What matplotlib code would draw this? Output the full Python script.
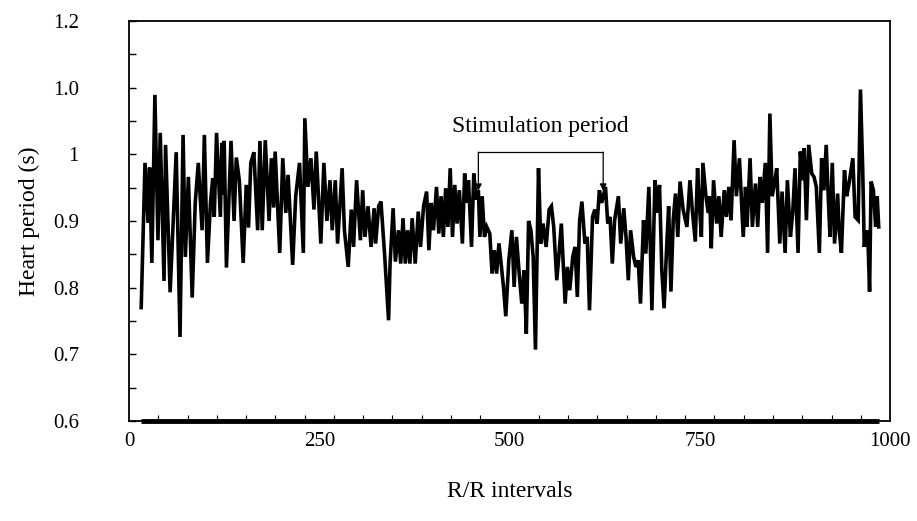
# -*- coding: utf-8 -*-
# heart period vs R/R interval number, with the stimulation period marked

import numpy as np
import matplotlib
matplotlib.use('Agg')
import matplotlib.pyplot as plt
from matplotlib.ticker import MultipleLocator

#------------------------------------------------------------------------------
# values (interval number, heart period in s)
rr_index = [
    16, 21, 25, 27, 30, 34, 38, 41, 46, 48, 54, 62, 67, 71, 74, 78, 83, 87,
    91, 96, 99, 103, 107, 110, 112, 115, 120, 122, 123, 125, 128, 134, 138,
    141, 145, 150, 154, 157, 160, 164, 169, 172,
    175, 179, 184, 187, 190, 192, 198, 202, 206, 209, 215, 219, 224, 229,
    231, 235, 239, 243, 246, 252, 256, 260, 264, 267, 271, 274, 280, 283,
    288, 292, 295, 299, 304, 307, 310, 314, 318, 322, 324, 328,
    331, 336, 341, 343, 347, 350, 354, 357, 360, 363, 366, 369, 372, 376,
    380, 383, 387, 391, 394, 397, 400, 404, 407, 410, 413, 416, 419, 422,
    425, 428, 431, 434, 438, 441, 444, 446, 450, 453, 456, 459, 461, 464,
    467, 470, 474, 477, 480, 483,
    486, 488, 492, 495, 499, 503, 506, 509, 513, 516, 519, 522, 525, 528,
    531, 534, 538, 541, 544, 548, 552, 555, 558, 562, 565, 568, 573, 576,
    579, 583, 586, 589, 592, 595, 599, 602, 605, 609, 612, 615, 618, 621,
    626, 629, 632, 635, 638,
    643, 646, 650, 653, 656, 659, 663, 666, 669, 672, 676, 679, 683, 687,
    691, 694, 697, 700, 703, 706, 709, 712, 715, 718, 721, 724, 728, 733,
    737, 740, 744, 747, 749, 752, 754, 758, 761, 763, 765, 768, 772, 775,
    778, 782, 785, 788, 791, 795, 798,
    802, 807, 810, 812, 816, 819, 823, 826, 829, 832, 836, 839, 842, 845,
    848, 851, 855, 858, 862, 865, 869, 872, 875, 879, 882, 885, 887, 890,
    893, 897, 900, 903, 907, 910, 913, 916, 919, 921, 924, 927, 931, 933,
    936, 940, 943, 946, 948, 951, 954, 958, 961, 964, 966, 969, 971, 973,
    975, 978, 981, 983, 985,
]

heart_period = [
    0.770, 0.987, 0.897, 0.980, 0.837, 1.089, 0.871, 1.032, 0.810, 1.014,
    0.793, 1.003, 0.726, 1.029, 0.846, 0.966, 0.785, 0.927, 0.987, 0.886,
    1.029, 0.837, 0.927, 0.964, 0.906, 1.032, 0.906, 1.017, 0.940, 1.020,
    0.830, 1.020, 0.900, 0.995, 0.960, 0.837, 0.954, 0.890, 0.987, 1.003,
    0.886, 1.020,
    0.886, 1.021, 0.900, 0.994, 0.920, 1.004, 0.852, 0.994, 0.912, 0.969,
    0.834, 0.937, 0.987, 0.852, 1.054, 0.951, 0.994, 0.917, 1.004, 0.866,
    0.987, 0.900, 0.961, 0.886, 0.961, 0.866, 0.979, 0.886, 0.831, 0.917,
    0.861, 0.961, 0.871, 0.946, 0.876, 0.922, 0.861, 0.919, 0.866, 0.922,
    0.929, 0.846, 0.751, 0.836, 0.919, 0.839, 0.886, 0.836, 0.904, 0.836,
    0.886, 0.836, 0.904, 0.836, 0.914, 0.861, 0.922, 0.944, 0.856, 0.927,
    0.886, 0.951, 0.881, 0.937, 0.876, 0.949, 0.891, 0.979, 0.876, 0.954,
    0.896, 0.946, 0.866, 0.971, 0.927, 0.961, 0.861, 0.971, 0.932, 0.946,
    0.876, 0.937, 0.876, 0.891, 0.881, 0.821, 0.856, 0.821,
    0.866, 0.846, 0.801, 0.757, 0.841, 0.886, 0.801, 0.876, 0.816, 0.776,
    0.826, 0.731, 0.900, 0.886, 0.846, 0.707, 0.979, 0.866, 0.896, 0.861,
    0.917, 0.922, 0.891, 0.811, 0.851, 0.896, 0.776, 0.831, 0.796, 0.846,
    0.861, 0.786, 0.900, 0.929, 0.866, 0.876, 0.766, 0.906, 0.917, 0.896,
    0.946, 0.927, 0.951, 0.896, 0.906, 0.836, 0.901,
    0.937, 0.866, 0.919, 0.876, 0.811, 0.886, 0.846, 0.831, 0.841, 0.776,
    0.901, 0.851, 0.951, 0.766, 0.961, 0.912, 0.954, 0.826, 0.769, 0.851,
    0.922, 0.794, 0.901, 0.941, 0.876, 0.959, 0.917, 0.891, 0.961, 0.917,
    0.869, 0.979, 0.932, 0.876, 0.987, 0.937, 0.912, 0.937, 0.859, 0.961,
    0.896, 0.937, 0.876, 0.946, 0.906, 0.951, 0.901, 1.021, 0.937,
    0.994, 0.876, 0.951, 0.891, 0.994, 0.891, 0.956, 0.891, 0.966, 0.927,
    0.987, 0.852, 1.061, 0.937, 0.956, 0.979, 0.866, 0.944, 0.852, 0.961,
    0.876, 0.912, 0.979, 0.852, 1.004, 0.961, 1.009, 0.901, 1.014, 0.971,
    0.966, 0.951, 0.852, 0.994, 0.946, 1.014, 0.927, 0.876, 0.987, 0.866,
    0.941, 0.886, 0.852, 0.976, 0.937, 0.956, 0.971, 0.994, 0.906, 0.901,
    1.097, 0.976, 0.861, 0.886, 0.866, 0.794, 0.959, 0.946, 0.891, 0.937,
    0.891,
]

# axis ticks as printed on the original (labels are not quite regular)
y_ticks = [0.6, 0.7, 0.8, 0.9, 1.0, 1.1, 1.2]
y_tick_labels = ['0.6', '0.7', '0.8', '0.9', '1', '1.0', '1.2']
x_ticks = [0, 250, 500, 750, 1000]

stim_start = 459
stim_end = 623
stim_label = 'Stimulation period'

#------------------------------------------------------------------------------
plt.rcParams['font.family'] = ['Liberation Serif', 'DejaVu Serif']

fig = plt.figure(figsize=(9.17, 5.21), dpi=100)
ax = fig.add_axes([0.1407, 0.192, 0.830, 0.768])

ax.plot(rr_index, heart_period, color='black', lw=2.6, solid_joinstyle='miter')
# thick baseline along the bottom over the recorded range
ax.plot([rr_index[0], rr_index[-1]], [0.6, 0.6], color='black', lw=3.5,
        solid_capstyle='butt', clip_on=False)

ax.set_xlim(0, 1000)
ax.set_ylim(0.6, 1.2)
ax.set_xticks(x_ticks)
ax.set_xticklabels([str(t) for t in x_ticks])
ax.set_yticks(y_ticks)
ax.set_yticklabels(y_tick_labels)
ax.yaxis.set_minor_locator(MultipleLocator(0.05))
ax.xaxis.set_minor_locator(MultipleLocator(1000 / 26.0))

ax.tick_params(axis='y', which='both', direction='in', length=5, width=1,
               pad=36, labelsize=15, right=False)
ax.tick_params(axis='x', which='major', direction='in', length=0,
               pad=8, labelsize=15, top=False)
ax.tick_params(axis='x', which='minor', direction='in', length=4, width=0.8,
               top=False)

for s in ax.spines.values():
    s.set_linewidth(1.3)

ax.set_ylabel('Heart period (s)', fontsize=17)
ax.set_xlabel('R/R intervals', fontsize=17)
ax.yaxis.set_label_coords(-0.117, 0.5)
ax.xaxis.set_label_coords(0.5, -0.15)

#------------------------------------------------------------------------------
# stimulation bracket
top = 1.003
ax.plot([stim_start, stim_end], [top, top], color='black', lw=0.9)
for xs in [stim_start, stim_end]:
    ax.annotate('', xy=(xs, 0.945), xytext=(xs, top),
                arrowprops=dict(arrowstyle='-|>', color='black', lw=0.9,
                                mutation_scale=10, shrinkA=0, shrinkB=0))
ax.text((stim_start + stim_end) / 2.0, 1.041, stim_label, ha='center',
        va='center', fontsize=17)

fig.savefig('out.png', dpi=100)
